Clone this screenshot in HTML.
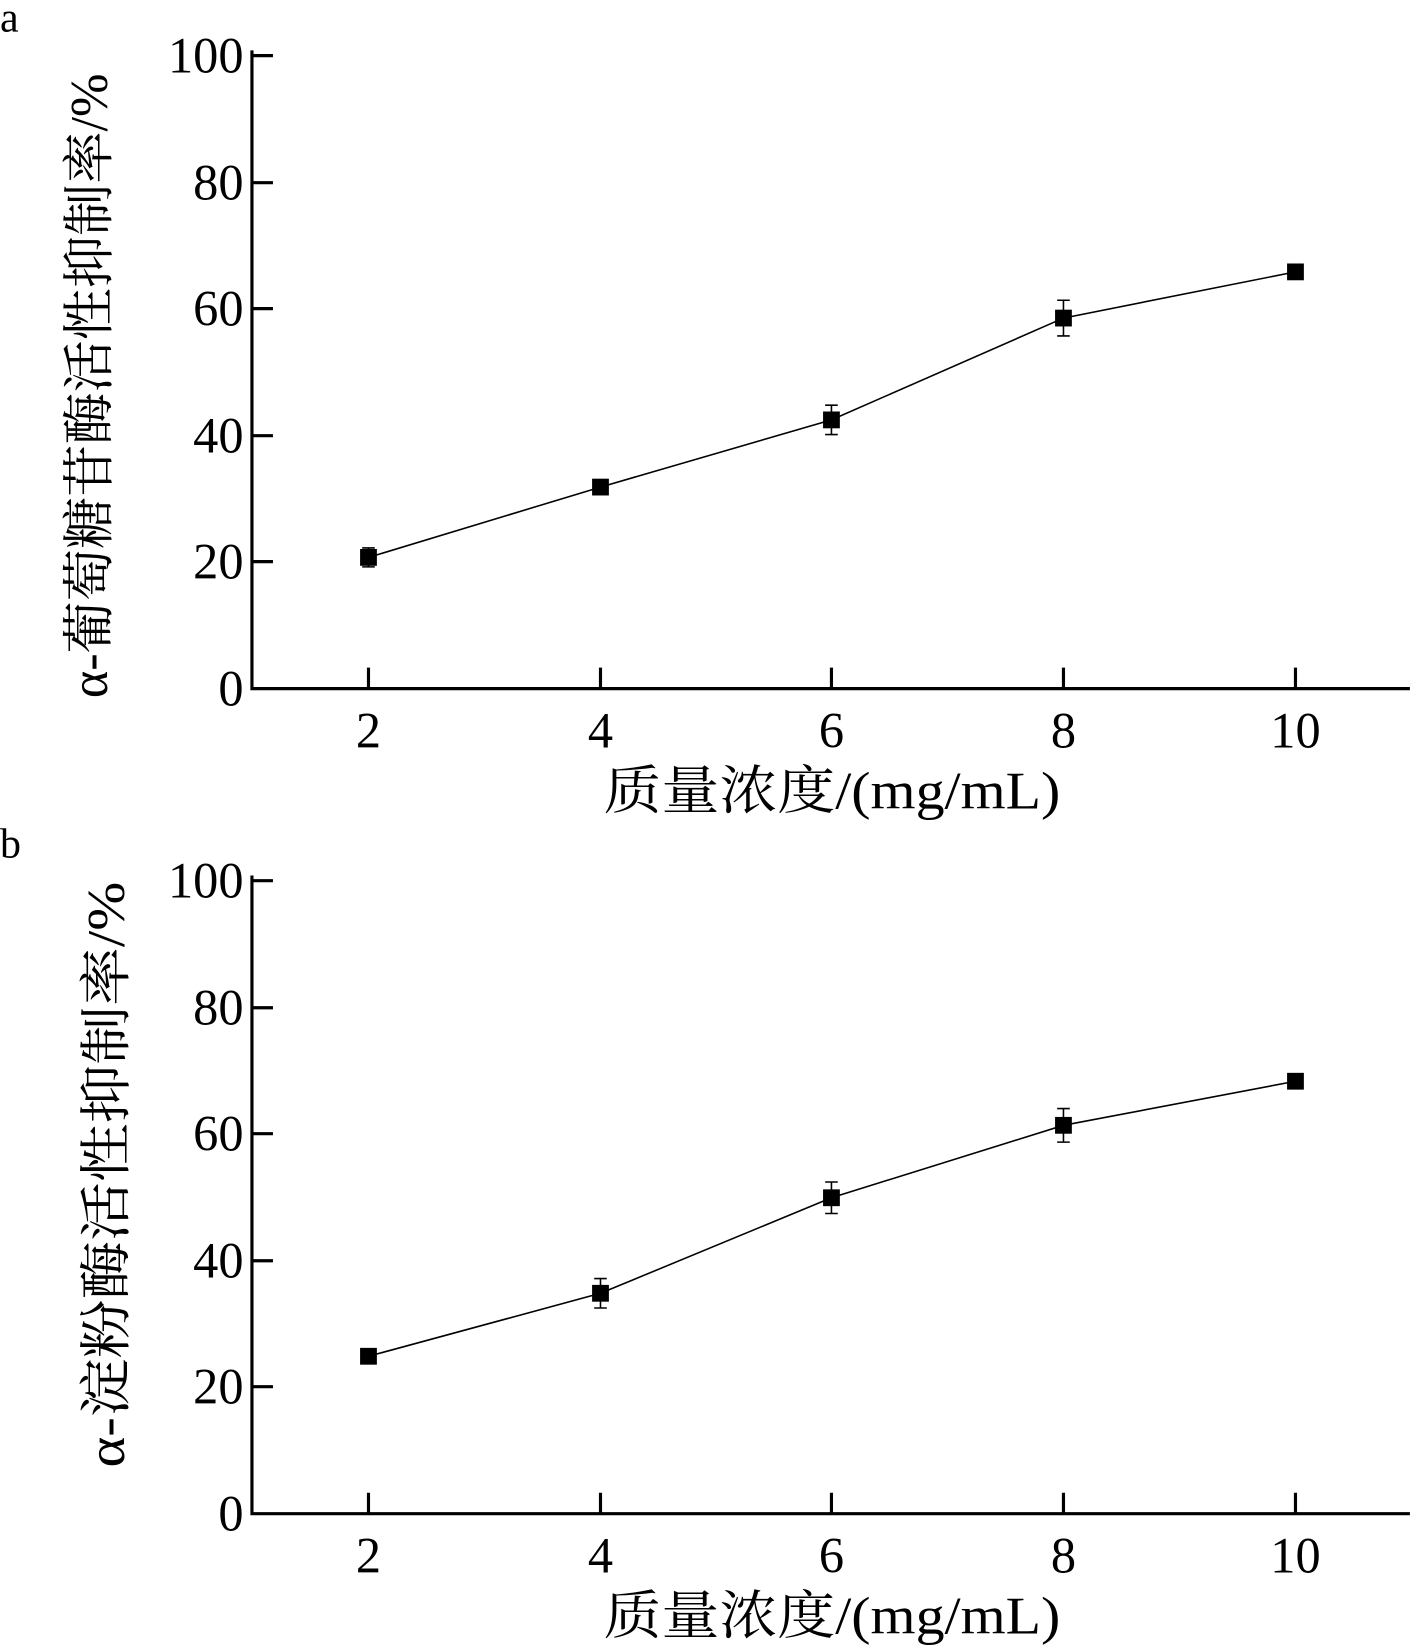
<!DOCTYPE html>
<html><head><meta charset="utf-8"><style>body{margin:0;background:#fff}svg{display:block}</style></head>
<body>
<svg width="1412" height="1646" viewBox="0 0 1345 1568" preserveAspectRatio="none" xmlns="http://www.w3.org/2000/svg" font-family="Liberation Serif, Noto Serif CJK SC, serif">
<g id="a">
<text x="0" y="30" font-size="40">a</text>
<path d="M240 48V656H1343" stroke="#000" stroke-width="3" fill="none"/>
<g stroke="#000" stroke-width="3">
<path d="M240 53h20M240 174h20M240 294h20M240 415h20M240 535h20"/>
<path d="M351 656v-20M572 656v-20M792 656v-20M1013 656v-20M1234 656v-20"/>
</g>
<g font-size="48" text-anchor="end">
<text x="232" y="69">100</text><text x="232" y="190">80</text><text x="232" y="310">60</text><text x="232" y="431">40</text><text x="232" y="551">20</text><text x="232" y="672">0</text>
</g>
<g font-size="48" text-anchor="middle">
<text x="351" y="712">2</text><text x="572" y="712">4</text><text x="792" y="712">6</text><text x="1013" y="712">8</text><text x="1234" y="712">10</text>
</g>
<text x="575" y="770" font-size="50" textLength="435" lengthAdjust="spacingAndGlyphs">质量浓度/(mg/mL)</text>
<text transform="translate(102,665) rotate(-90)" font-size="50" textLength="595" lengthAdjust="spacingAndGlyphs">α-葡萄糖苷酶活性抑制率/%</text>
<polyline points="351,531 572,464 792,400 1013,303 1234,259" fill="none" stroke="#000" stroke-width="1.5"/>
<g stroke="#000" stroke-width="1.5">
<path d="M351 522v18M345 522h12M345 540h12"/>
<path d="M572 458v12M566 458h12M566 470h12"/>
<path d="M792 386v28M786 386h12M786 414h12"/>
<path d="M1013 286v34M1007 286h12M1007 320h12"/>
<path d="M1234 254v10M1228 254h12M1228 264h12"/>
</g>
<g fill="#000"><rect x="343" y="523" width="16" height="16"/><rect x="564" y="456" width="16" height="16"/><rect x="784" y="392" width="16" height="16"/><rect x="1005" y="295" width="16" height="16"/><rect x="1226" y="251" width="16" height="16"/></g>
</g>
<g>
<text x="0" y="817" font-size="40">b</text>
<path d="M240 834V1442H1343" stroke="#000" stroke-width="3" fill="none"/>
<g stroke="#000" stroke-width="3">
<path d="M240 839h20M240 960h20M240 1080h20M240 1201h20M240 1321h20"/>
<path d="M351 1442v-20M572 1442v-20M792 1442v-20M1013 1442v-20M1234 1442v-20"/>
</g>
<g font-size="48" text-anchor="end">
<text x="232" y="855">100</text><text x="232" y="976">80</text><text x="232" y="1096">60</text><text x="232" y="1217">40</text><text x="232" y="1337">20</text><text x="232" y="1458">0</text>
</g>
<g font-size="48" text-anchor="middle">
<text x="351" y="1498">2</text><text x="572" y="1498">4</text><text x="792" y="1498">6</text><text x="1013" y="1498">8</text><text x="1234" y="1498">10</text>
</g>
<text x="575" y="1556" font-size="50" textLength="435" lengthAdjust="spacingAndGlyphs">质量浓度/(mg/mL)</text>
<text transform="translate(118,1398) rotate(-90)" font-size="50" textLength="558" lengthAdjust="spacingAndGlyphs">α-淀粉酶活性抑制率/%</text>
<polyline points="351,1292 572,1232 792,1141 1013,1072 1234,1030" fill="none" stroke="#000" stroke-width="1.5"/>
<g stroke="#000" stroke-width="1.5">
<path d="M351 1286v12M345 1286h12M345 1298h12"/>
<path d="M572 1218v28M566 1218h12M566 1246h12"/>
<path d="M792 1126v30M786 1126h12M786 1156h12"/>
<path d="M1013 1056v32M1007 1056h12M1007 1088h12"/>
<path d="M1234 1024v12M1228 1024h12M1228 1036h12"/>
</g>
<g fill="#000"><rect x="343" y="1284" width="16" height="16"/><rect x="564" y="1224" width="16" height="16"/><rect x="784" y="1133" width="16" height="16"/><rect x="1005" y="1064" width="16" height="16"/><rect x="1226" y="1022" width="16" height="16"/></g>
</g>
</svg>
</body></html>
